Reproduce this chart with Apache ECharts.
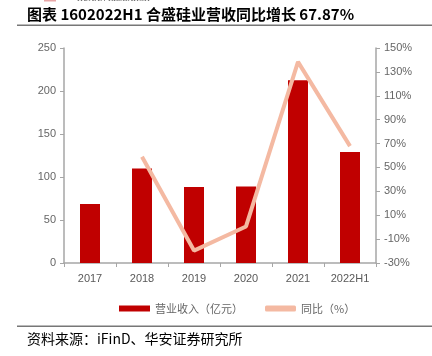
<!DOCTYPE html>
<html>
<head>
<meta charset="utf-8">
<script src="https://cdn.jsdelivr.net/npm/echarts@6/dist/echarts.min.js"></script>
<style>html,body{margin:0;padding:0;background:#fff;}#c{width:432px;height:356px;}</style>
</head>
<body>
<div id="c"></div>
<script>
var categories = ['2017', '2018', '2019', '2020', '2021', '2022H1'];
var revenue = [68.5, 110, 88.5, 89, 212.5, 129];
var yoy = [null, 59, -19.6, 0.6, 138.4, 67.87];
var leftTicks = [0, 50, 100, 150, 200, 250];
var rightTicks = [-30, -10, 10, 30, 50, 70, 90, 110, 130, 150];

var chart = echarts.init(document.getElementById('c'), null, {renderer: 'canvas'});
var axisGray = '#A6A6A6';
var labelGray = '#666666';
chart.setOption({
  animation: false,
  backgroundColor: '#fff',
  textStyle: {fontFamily: 'Liberation Sans, Arial, sans-serif'},
  grid: {left: 64, right: 56, top: 48, bottom: 93, containLabel: false},
  legend: {
    top: 298,
    left: 114,
    itemWidth: 31,
    itemHeight: 6,
    itemGap: 22,
    textStyle: {color: '#666', fontSize: 11, fontFamily: 'Noto Sans CJK SC'},
    data: [
      {name: '营业收入（亿元）', icon: 'rect'},
      {name: '同比（%）', icon: 'roundRect', itemStyle: {color: '#F4B9A2'}}
    ]
  },
  xAxis: {
    type: 'category',
    data: categories,
    axisLine: {lineStyle: {color: axisGray, width: 1.5}},
    axisTick: {show: true, length: 4, lineStyle: {color: axisGray}},
    axisLabel: {color: '#595959', fontSize: 11, margin: 10}
  },
  yAxis: [
    {
      type: 'value',
      min: leftTicks[0],
      max: leftTicks[leftTicks.length - 1],
      interval: leftTicks[1] - leftTicks[0],
      axisLine: {show: true, lineStyle: {color: axisGray, width: 1.5}},
      axisTick: {show: true, length: 4, lineStyle: {color: axisGray}},
      splitLine: {show: false},
      axisLabel: {color: labelGray, fontSize: 11, margin: 8}
    },
    {
      type: 'value',
      min: rightTicks[0],
      max: rightTicks[rightTicks.length - 1],
      interval: rightTicks[1] - rightTicks[0],
      position: 'right',
      axisLine: {show: true, lineStyle: {color: axisGray, width: 1.5}},
      axisTick: {show: true, length: 4, lineStyle: {color: axisGray}},
      splitLine: {show: false},
      axisLabel: {color: labelGray, fontSize: 11, margin: 8, formatter: function (v) { return v + '%'; }}
    }
  ],
  series: [
    {
      name: '营业收入（亿元）',
      type: 'bar',
      data: revenue,
      barWidth: 20,
      itemStyle: {color: '#C00000'}
    },
    {
      name: '同比（%）',
      type: 'line',
      yAxisIndex: 1,
      data: yoy,
      symbol: 'none',
      connectNulls: false,
      lineStyle: {color: '#F4B9A2', width: 4},
      itemStyle: {color: '#F4B9A2'}
    }
  ],
  graphic: [
    {type: 'rect', shape: {x: 44, y: 0, width: 12, height: 1.5}, style: {fill: '#E8A6A6'}},
    {type: 'text', left: 77, top: -5, style: {text: 'HUAAN RESEARCH', fontSize: 8, fontFamily: 'Liberation Serif', fill: '#555'}},
    {type: 'text', left: 27, top: 7, style: {text: '图表 1602022H1 合盛硅业营收同比增长 67.87%', fontSize: 15, fontWeight: 'bold', fontFamily: 'Noto Sans CJK SC', fill: '#000'}},
    {type: 'rect', shape: {x: 17, y: 24.5, width: 415, height: 1.5}, style: {fill: '#777'}},
    {type: 'rect', shape: {x: 17, y: 325.5, width: 415, height: 1.5}, style: {fill: '#777'}},
    {type: 'text', left: 27, top: 332, style: {text: '资料来源：iFinD、华安证券研究所', fontSize: 14, fontFamily: 'Noto Sans CJK SC', fill: '#000'}}
  ]
});
</script>
</body>
</html>
